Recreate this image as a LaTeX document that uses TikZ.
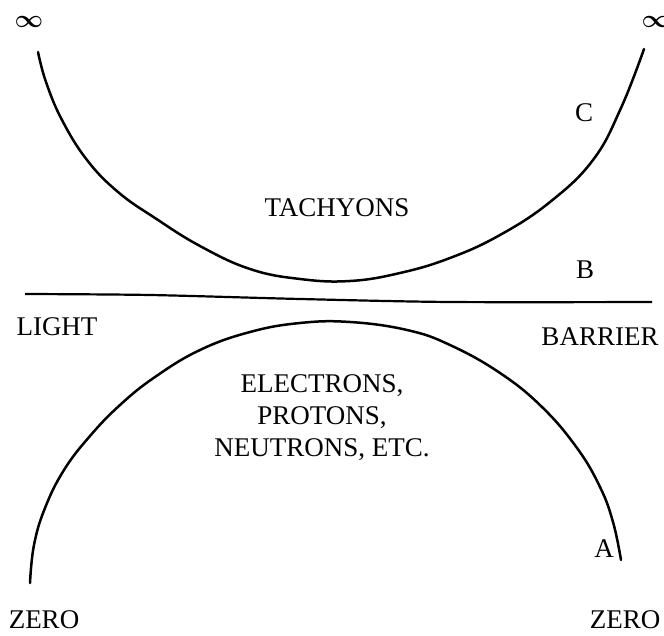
\documentclass[tikz,border=0pt]{standalone}
\usepackage{fontspec}
\setmainfont{Liberation Serif}
\begin{document}
\begin{tikzpicture}[x=1pt,y=-1pt,
  curve/.style={line width=2.5pt,line cap=round},
  lbl/.style={inner sep=0pt,font=\fontsize{27}{32}\selectfont},
  inf/.style={inner sep=0pt,font=\fontsize{28}{32}\selectfont\boldmath}]
\useasboundingbox (0,0) rectangle (664,636);
% tachyon curve
\draw[curve] plot[smooth,tension=0.7] coordinates {(38,52) (46,82) (62,120) (87,160) (118,192) (155,218) (200,246) (250,269) (300,279) (350,281) (400,273) (450,258) (500,235) (550,202) (593,160) (621,108) (644,49)};
% light barrier
\draw[line width=2.2pt] plot[smooth,tension=0.5] coordinates {(25,294) (150,295) (300,299) (450,302) (652,302)};
% ordinary particle curve
\draw[curve] plot[smooth,tension=0.7] coordinates {(30,583) (34,545) (45,508) (64,470) (90,436) (120,405) (155,377) (200,350) (250,332) (300,323) (350,322) (407,330) (450,345) (500,373) (542,407) (577,448) (600,487) (613,522) (621,560)};
% labels
\node[inf] (infl) at (29,22) {$\infty$};
\node[inf] (infr) at (656,22) {$\infty$};
\node[lbl] (c) at (584,113) {C};
\node[lbl] (b) at (585,270) {B};
\node[lbl] (a) at (604,549) {A};
\node[lbl] (tach) at (337,208) {TACHYONS};
\node[lbl] (light) at (57,327) {LIGHT};
\node[lbl] (barrier) at (600,337) {BARRIER};
\node[lbl,align=center] (elec) at (322,418) {ELECTRONS,\\PROTONS,\\NEUTRONS, ETC.};
\node[lbl] (zl) at (44,620) {ZERO};
\node[lbl] (zr) at (625,620) {ZERO};
\end{tikzpicture}
\end{document}
